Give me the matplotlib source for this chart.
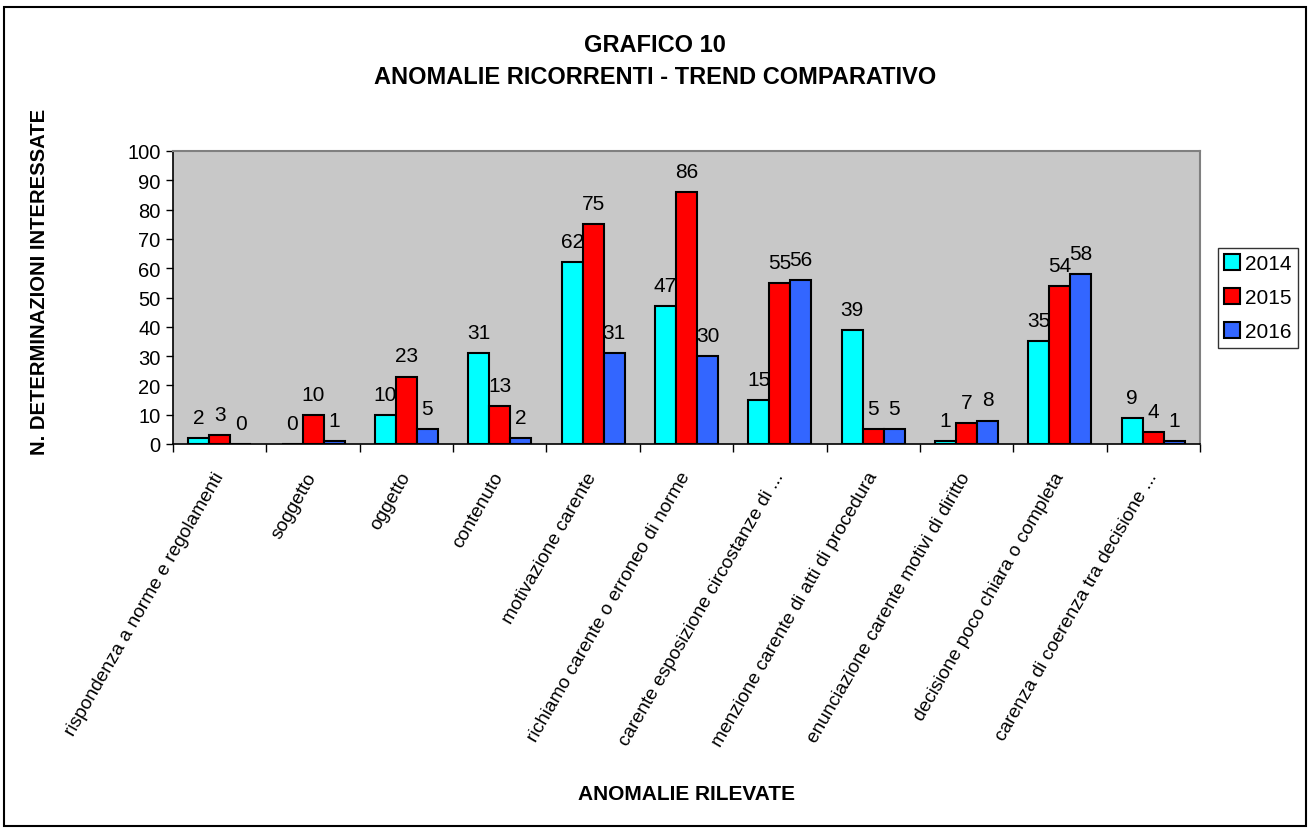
import matplotlib
matplotlib.use("Agg")
import matplotlib.pyplot as plt
from matplotlib.patches import Rectangle
import numpy as np

plt.rcParams['font.family'] = ['Liberation Sans', 'DejaVu Sans']

categories = [
    "rispondenza a norme e regolamenti",
    "soggetto",
    "oggetto",
    "contenuto",
    "motivazione carente",
    "richiamo carente o erroneo di norme",
    "carente esposizione circostanze di ...",
    "menzione carente di atti di procedura",
    "enunciazione carente motivi di diritto",
    "decisione poco chiara o completa",
    "carenza di coerenza tra decisione ...",
]
years = ["2014", "2015", "2016"]
v2014 = [2, 0, 10, 31, 62, 47, 15, 39, 1, 35, 9]
v2015 = [3, 10, 23, 13, 75, 86, 55, 5, 7, 54, 4]
v2016 = [0, 1, 5, 2, 31, 30, 56, 5, 8, 58, 1]
series = [v2014, v2015, v2016]
colors = ["#00FFFF", "#FF0000", "#3366FF"]

W, H = 1310, 829
fig = plt.figure(figsize=(W / 100, H / 100), dpi=100)
fig.patch.set_facecolor("white")

left, right, top, bottom = 173, 1200, 152, 445
ax = fig.add_axes([left / W, 1 - bottom / H, (right - left) / W, (bottom - top) / H])
ax.set_facecolor("#C8C8C8")

n = len(categories)
x = np.arange(n)
bw = 0.225
for i, (vals, c, yr) in enumerate(zip(series, colors, years)):
    pos = x + (i - 1) * bw
    ax.bar(pos, vals, width=bw, color=c, edgecolor="black", linewidth=1.5, label=yr, zorder=3)
    for p, v in zip(pos, vals):
        ax.annotate(str(v), (p, v), xytext=(0, 8), textcoords="offset points",
                    ha="center", va="bottom", fontsize=15)

ax.set_xlim(-0.5, n - 0.5)
ax.set_ylim(0, 100)
ax.set_yticks(np.arange(0, 101, 10))
ax.tick_params(axis="y", labelsize=14.5, length=5, width=1, direction="out", pad=4)
ax.set_xticks(np.arange(-0.5, n, 1.0))
ax.set_xticklabels([])
ax.tick_params(axis="x", length=6, width=1, direction="out")
ax.set_xticks(x, minor=True)
ax.set_xticklabels(categories, minor=True, rotation=60, ha="right", va="center",
                   rotation_mode="anchor", fontsize=13.8)
ax.tick_params(axis="x", which="minor", length=0, pad=21)

for s in ["top", "right"]:
    ax.spines[s].set_color("#808080")
    ax.spines[s].set_linewidth(1.5)
for s in ["left", "bottom"]:
    ax.spines[s].set_color("black")
    ax.spines[s].set_linewidth(1.2)

leg = fig.legend(loc="upper left", bbox_to_anchor=(1218 / W, 1 - 249 / H),
                 fontsize=15, frameon=True, fancybox=False, edgecolor="black",
                 handlelength=0.75, handleheight=0.75, handletextpad=0.25,
                 labelspacing=0.72, borderpad=0.3, borderaxespad=0)
leg.get_frame().set_linewidth(1.0)

fig.text(655 / W, 1 - 45 / H, "GRAFICO 10", ha="center", va="center",
         fontsize=17, fontweight="bold")
fig.text(655 / W, 1 - 77 / H, "ANOMALIE RICORRENTI - TREND COMPARATIVO", ha="center",
         va="center", fontsize=17, fontweight="bold")
fig.text(40 / W, 1 - 282 / H, "N. DETERMINAZIONI INTERESSATE", ha="center", va="center",
         rotation=90, fontsize=14.6, fontweight="bold")
fig.text(687 / W, 1 - 795 / H, "ANOMALIE RILEVATE", ha="center", va="center",
         fontsize=15, fontweight="bold")

fig.patches.append(Rectangle((4 / W, 0.002), 1302 / W, 1 - 8 / H - 0.002,
                             transform=fig.transFigure, fill=False,
                             edgecolor="black", linewidth=1.5))

fig.savefig("out.png", dpi=100)
